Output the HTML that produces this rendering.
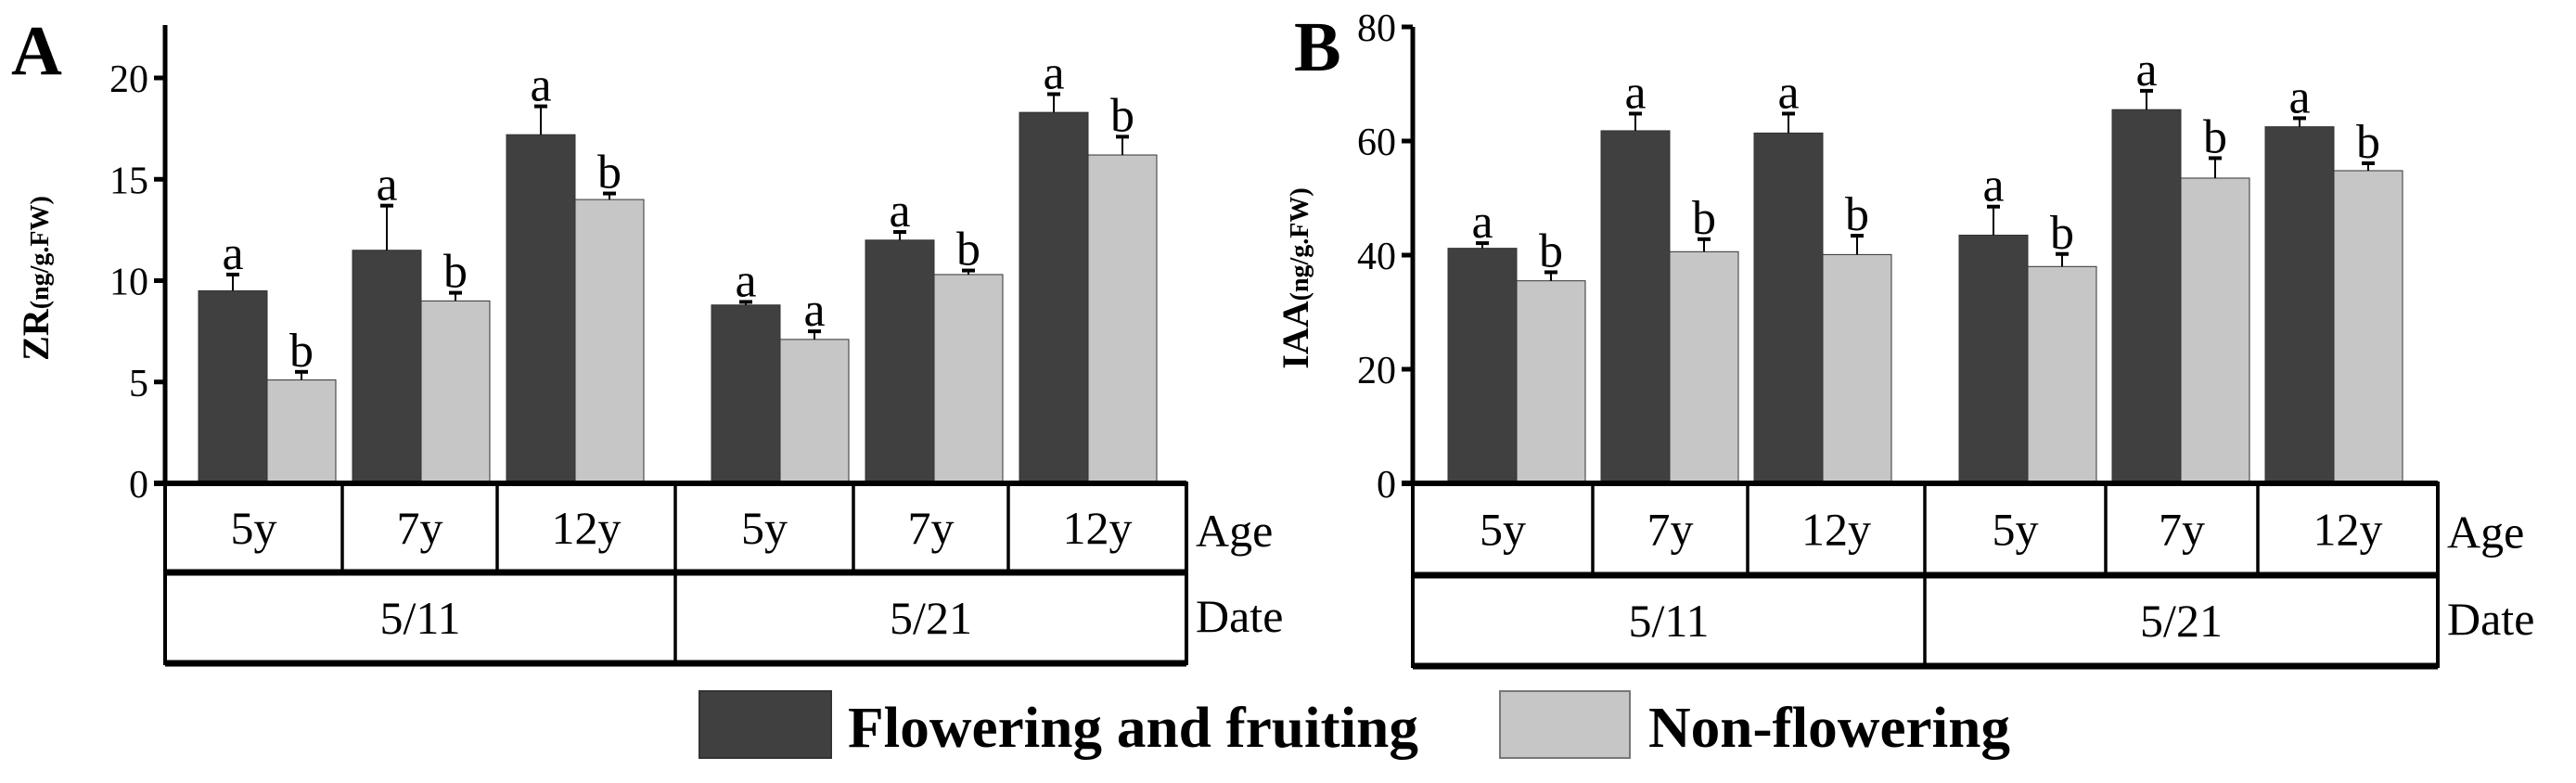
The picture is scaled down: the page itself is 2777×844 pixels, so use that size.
<!DOCTYPE html>
<html><head><meta charset="utf-8"><style>
html,body{margin:0;padding:0;background:#fff;}
svg, svg text{font-family:"Liberation Serif","Times New Roman","DejaVu Serif",serif;}
</style></head><body>
<svg id="fig" width="2777" height="839" viewBox="0 0 2777 839">
<g id="root"></g>
</svg>
<script>
const ageLabels = ["5y","7y","12y","5y","7y","12y"];
const dateLabels = ["5/11","5/21"];
const zrTicks = [0,5,10,15,20];
const zrDark = [9.5,11.5,17.2,8.8,12.0,18.3];
const zrDarkErr = [0.8,2.2,1.4,0.15,0.4,0.9];
const zrLight = [5.1,9.0,14.0,7.1,10.3,16.2];
const zrLightErr = [0.4,0.4,0.3,0.4,0.2,0.9];
const zrDarkSig = ["a","a","a","a","a","a"];
const zrLightSig = ["b","b","b","a","b","b"];
const iaaTicks = [0,20,40,60,80];
const iaaDark = [41.2,61.8,61.4,43.5,65.5,62.5];
const iaaDarkErr = [0.9,3.0,3.4,5.0,3.3,1.5];
const iaaLight = [35.5,40.6,40.1,38.0,53.5,54.8];
const iaaLightErr = [1.5,2.2,3.3,2.2,3.5,1.3];
const iaaDarkSig = ["a","a","a","a","a","a"];
const iaaLightSig = ["b","b","b","b","b","b"];

const NS="http://www.w3.org/2000/svg";
const root=document.getElementById('root');
const FF='"Liberation Serif","Times New Roman","DejaVu Serif",serif';
function mk(tag,attrs,parent,text){const e=document.createElementNS(NS,tag);for(const k in attrs)e.setAttribute(k,attrs[k]);if(tag==='text')e.style.fontFamily=FF;if(text!==undefined)e.textContent=text;(parent||root).appendChild(e);return e;}

function panel(cfg){
  const g=mk('g',{});
  
  
  const y=v=>cfg.y0-(v-0)*(cfg.y0-cfg.yTop)/cfg.vmax;
  const gx=i=>cfg.gx0+i*cfg.gstep+(i>=3?cfg.gap:0);
  const bw=74;
  const ax=mk('line',{x1:cfg.ax,y1:cfg.axTop,x2:cfg.ax,y2:cfg.y0+2,stroke:'#000','stroke-width':5},g);
  
  
  cfg.ticks.forEach(t=>{
    const tk=mk('line',{x1:cfg.ax-12,y1:y(t),x2:cfg.ax,y2:y(t),stroke:'#000','stroke-width':5},g);
    
    
    const tl=mk('text',{x:cfg.ax-18,y:y(t)+15,'text-anchor':'end','font-size':42},g,String(t));
    
    
  });
  function bar(i,v,e,sig,off,fill,nm){
    const x=gx(i)+off;
    const r=mk('rect',{x:x,y:y(v),width:bw,height:cfg.y0-y(v),fill:fill,stroke:'#333','stroke-width':1},g);
    
    
    const cx=x+bw/2, top=y(v+e);
    const el=mk('line',{x1:cx,y1:y(v),x2:cx,y2:top,stroke:'#000','stroke-width':2},g);
    
    
    const cap=mk('line',{x1:cx-7,y1:top,x2:cx+7,y2:top,stroke:'#000','stroke-width':4},g);
    
    
    const s=mk('text',{x:cx,y:top-6,'text-anchor':'middle','font-size':52},g,sig);
    
    
  }
  for(let i=0;i<6;i++){
    bar(i,cfg.dark[i],cfg.darkErr[i],cfg.darkSig[i],0,'#404040','flowering');
    bar(i,cfg.light[i],cfg.lightErr[i],cfg.lightSig[i],bw,'#c6c6c6','non-flowering');
  }
  mk('line',{x1:cfg.ax-12,y1:cfg.y0,x2:cfg.tr,y2:cfg.y0,stroke:'#000','stroke-width':6},g);
  const t=mk('g',{},g);
  
  
  mk('rect',{x:cfg.ax,y:cfg.y0,width:cfg.tr-cfg.ax,height:cfg.rowB-cfg.y0,fill:'none',stroke:'#000','stroke-width':4},t);
  mk('line',{x1:cfg.ax,y1:cfg.rowA,x2:cfg.tr,y2:cfg.rowA,stroke:'#000','stroke-width':7},t);
  mk('line',{x1:cfg.ax,y1:cfg.rowB,x2:cfg.tr,y2:cfg.rowB,stroke:'#000','stroke-width':7},t);
  const bounds=[cfg.ax].concat(cfg.divs).concat([cfg.tr]);
  cfg.divs.forEach((d,k)=>mk('line',{x1:d,y1:cfg.y0,x2:d,y2:(k===2?cfg.rowB:cfg.rowA),stroke:'#000','stroke-width':3.5},t));
  ageLabels.forEach((a,i)=>{
    const l=mk('text',{x:(bounds[i]+bounds[i+1])/2,y:(cfg.y0+cfg.rowA)/2+17,'text-anchor':'middle','font-size':50},t,a);
    
    
  });
  dateLabels.forEach((d,i)=>{
    const x=i===0?(cfg.ax+cfg.divs[2])/2:(cfg.divs[2]+cfg.tr)/2;
    const l=mk('text',{x:x,y:(cfg.rowA+cfg.rowB)/2+17,'text-anchor':'middle','font-size':50},t,d);
    
    
  });
  const ag=mk('text',{x:cfg.tr+10,y:(cfg.y0+cfg.rowA)/2+20,'font-size':50},t,'Age');
  
  
  const dt=mk('text',{x:cfg.tr+10,y:(cfg.rowA+cfg.rowB)/2+15,'font-size':50},t,'Date');
  
  
  const yt=mk('text',{transform:`translate(${cfg.ytx},${cfg.yty}) rotate(-90)`,'text-anchor':'middle','font-weight':'bold','font-size':28},g);
  
  
  mk('tspan',{'font-size':40},yt,cfg.ytMain);
  mk('tspan',{},yt,'(ng/g.FW)');
  const pl=mk('text',{x:cfg.lx,y:cfg.ly,'font-weight':'bold','font-size':76},g,cfg.letter);
  
  
}

panel({name:'panel-a-zr-chart',letter:'A',lx:12,ly:80,ax:178,axTop:27,y0:521,yTop:84,vmax:20,ticks:zrTicks,
  gx0:214,gstep:166,gap:55,dark:zrDark,darkErr:zrDarkErr,light:zrLight,lightErr:zrLightErr,darkSig:zrDarkSig,lightSig:zrLightSig,
  tr:1279,rowA:617,rowB:715,divs:[369,536,728,920,1087],ytx:52,yty:300,ytMain:'ZR'});
panel({name:'panel-b-iaa-chart',letter:'B',lx:1395,ly:76,ax:1523,axTop:29,y0:521,yTop:29,vmax:80,ticks:iaaTicks,
  gx0:1561,gstep:165,gap:56,dark:iaaDark,darkErr:iaaDarkErr,light:iaaLight,lightErr:iaaLightErr,darkSig:iaaDarkSig,lightSig:iaaLightSig,
  tr:2628,rowA:620,rowB:718,divs:[1717,1884,2075,2270,2434],ytx:1410,yty:300,ytMain:'IAA'});

const lg=mk('g',{});


const l1=mk('rect',{x:754,y:745,width:142,height:72,fill:'#404040',stroke:'#333','stroke-width':2},lg);


const t1=mk('text',{x:914,y:805,'font-weight':'bold','font-size':62,textLength:615,lengthAdjust:'spacingAndGlyphs'},lg,'Flowering and fruiting');


const l2=mk('rect',{x:1617,y:745,width:140,height:72,fill:'#c6c6c6',stroke:'#777','stroke-width':2},lg);


const t2=mk('text',{x:1777,y:805,'font-weight':'bold','font-size':62,textLength:390,lengthAdjust:'spacingAndGlyphs'},lg,'Non-flowering');


</script>
</body></html>
